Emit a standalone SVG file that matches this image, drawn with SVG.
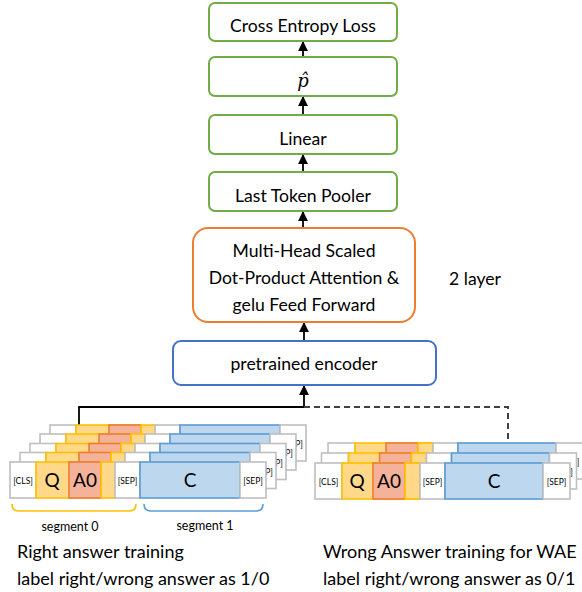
<svg xmlns="http://www.w3.org/2000/svg" xmlns:xlink="http://www.w3.org/1999/xlink" width="582" height="592" viewBox="0 0 582 592">
<style>
text{font-family:Lato,"Open Sans","Liberation Sans",sans-serif;fill:#000;text-anchor:middle}
.gb{fill:#fff;stroke:#70AD47;stroke-width:2}
.lbl{font-size:17.6px}
.w{fill:#fff;stroke:#BFBFBF;stroke-width:1.6}
.y{fill:#FFD88A;stroke:#FFC000;stroke-width:1.6}
.r{fill:#F4B29A;stroke:#ED7D31;stroke-width:1.6}
.b{fill:#BDD7EE;stroke:#5B9BD5;stroke-width:1.6}
.sm{font-size:8.5px}
.bg{font-size:19px}
.ln{stroke:#000;stroke-width:1.8;fill:none}
.dash{stroke:#404040;stroke-width:2;fill:none;stroke-dasharray:6 4}
.bt{font-size:18px;text-anchor:start}
</style>
<defs>
<marker id="ah" viewBox="0 0 10 10" refX="9" refY="5" markerWidth="5.5" markerHeight="5.5" orient="auto">
<path d="M0,0L10,5L0,10z" fill="#000"/>
</marker>
<g id="rowL">
<rect class="w" x="10" y="462" width="26" height="36"/>
<rect class="y" x="36" y="462" width="65" height="36"/>
<rect class="r" x="69" y="462" width="32" height="36"/>
<rect class="y" x="101" y="462" width="14" height="36"/>
<rect class="w" x="115" y="462" width="25" height="36"/>
<rect class="b" x="140" y="462" width="100" height="36"/>
<rect class="w" x="240" y="462" width="26" height="36"/>
<text class="sm" x="23" y="484">[CLS]</text>
<text class="bg" x="52" y="487">Q</text>
<text class="bg" x="85" y="487">A0</text>
<text class="sm" x="127.5" y="484">[SEP]</text>
<text class="bg" x="190" y="487">C</text>
<text class="sm" x="253" y="484">[SEP]</text>
</g>
<g id="rowR">
<rect class="w" x="315" y="463" width="27" height="36"/>
<rect class="y" x="342" y="463" width="78" height="36"/>
<rect class="r" x="373" y="463" width="32" height="36"/>
<rect class="y" x="405" y="463" width="15" height="36"/>
<rect class="w" x="420" y="463" width="25" height="36"/>
<rect class="b" x="445" y="463" width="98" height="36"/>
<rect class="w" x="543" y="463" width="27" height="36"/>
<text class="sm" x="328.5" y="485">[CLS]</text>
<text class="bg" x="357" y="488">Q</text>
<text class="bg" x="389" y="488">A0</text>
<text class="sm" x="432.5" y="485">[SEP]</text>
<text class="bg" x="494" y="488">C</text>
<text class="sm" x="556.5" y="485">[SEP]</text>
</g>
</defs>

<g id="connectors">
<line class="ln" x1="303" y1="57" x2="303" y2="42" marker-end="url(#ah)"/>
<line class="ln" x1="303" y1="115" x2="303" y2="97" marker-end="url(#ah)"/>
<line class="ln" x1="303" y1="172" x2="303" y2="155" marker-end="url(#ah)"/>
<line class="ln" x1="303" y1="228" x2="303" y2="212" marker-end="url(#ah)"/>
<line class="ln" x1="304" y1="341" x2="304" y2="323" marker-end="url(#ah)"/>
<line class="ln" x1="304" y1="407" x2="304" y2="386" marker-end="url(#ah)"/>
<path class="ln" d="M79,425V407H304"/>
<path class="dash" d="M304,407H508V443"/>
</g>

<g id="loss">
<rect class="gb" x="209" y="3" width="188" height="38" rx="6"/>
<text class="lbl" x="303" y="32">Cross Entropy Loss</text>
</g>
<g id="phat">
<rect class="gb" x="209" y="57" width="188" height="39" rx="6"/>
<text x="303" y="87" style="font-family:'DejaVu Serif','Liberation Serif',serif;font-style:italic;font-size:18px">p̂</text>
</g>
<g id="linear">
<rect class="gb" x="209" y="115" width="188" height="39" rx="6"/>
<text class="lbl" x="303" y="145">Linear</text>
</g>
<g id="pooler">
<rect class="gb" x="209" y="172" width="188" height="39" rx="6"/>
<text class="lbl" x="303" y="202">Last Token Pooler</text>
</g>
<g id="attention">
<rect x="193" y="228" width="222" height="94" rx="15" fill="#fff" stroke="#ED7D31" stroke-width="2"/>
<text class="lbl" x="304" y="257">Multi-Head Scaled</text>
<text class="lbl" x="304" y="284">Dot-Product Attention &amp;</text>
<text class="lbl" x="304" y="311">gelu Feed Forward</text>
</g>
<text class="lbl" x="475" y="285">2 layer</text>
<g id="encoder">
<rect x="173" y="341" width="263" height="44" rx="8" fill="#fff" stroke="#4472C4" stroke-width="2"/>
<text class="lbl" x="304" y="370">pretrained encoder</text>
</g>

<g id="leftStack">
<use xlink:href="#rowL" transform="translate(40,-37)"/>
<use xlink:href="#rowL" transform="translate(30,-28)"/>
<use xlink:href="#rowL" transform="translate(20,-18.5)"/>
<use xlink:href="#rowL" transform="translate(10,-9.5)"/>
<use xlink:href="#rowL"/>
<path d="M12,504Q12,511 19,511H129Q136,511 136,504" fill="none" stroke="#FFC000" stroke-width="1.6"/>
<path d="M144,504Q144,511 151,511H256Q263,511 263,504" fill="none" stroke="#5B9BD5" stroke-width="1.6"/>
<text x="70" y="531" style="font-size:12.5px">segment 0</text>
<text x="205" y="530" style="font-size:12.5px">segment 1</text>
</g>

<g id="rightStack">
<use xlink:href="#rowR" transform="translate(13,-20)"/>
<use xlink:href="#rowR" transform="translate(6.5,-10)"/>
<use xlink:href="#rowR"/>
</g>

<text class="bt" x="17" y="558">Right answer training</text>
<text class="bt" x="17" y="585">label right/wrong answer as 1/0</text>
<text class="bt" x="323" y="558">Wrong Answer training for WAE</text>
<text class="bt" x="323" y="585">label right/wrong answer as 0/1</text>
</svg>
